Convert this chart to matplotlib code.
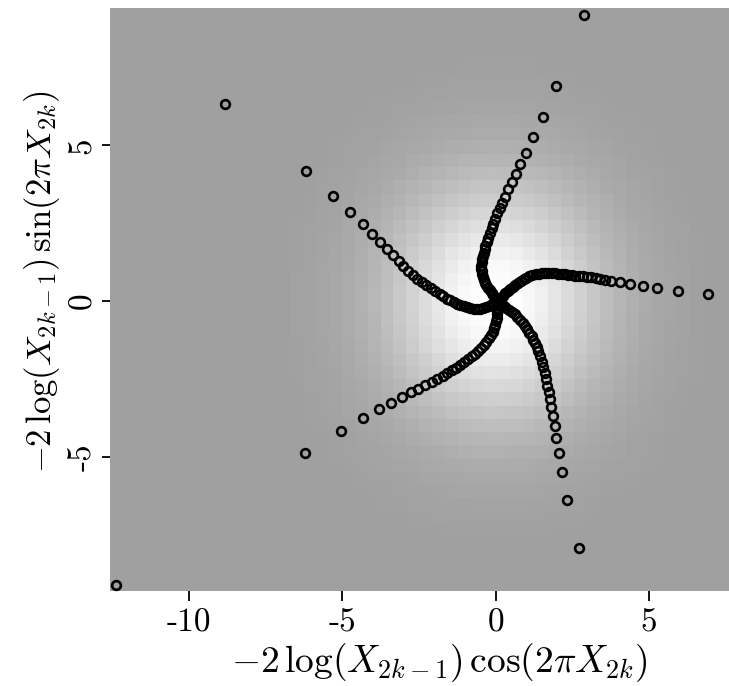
import numpy as np
import matplotlib
matplotlib.use("Agg")
import matplotlib.pyplot as plt

plt.rcParams['mathtext.fontset'] = 'cm'
plt.rcParams['axes.unicode_minus'] = False

# --- DATA: points, one list pair per spiral arm (outer -> centre) ---
arm_up_x = [2.87, 1.98, 1.53, 1.23, 1.00, 0.80, 0.65, 0.52, 0.39, 0.30, 0.21, 0.13, 0.06, -0.01,
            -0.07, -0.13, -0.18, -0.24, -0.29, -0.33, -0.36, -0.39, -0.42, -0.44, -0.45, -0.46,
            -0.46, -0.45, -0.43, -0.41, -0.38, -0.34, -0.30, -0.25, -0.19, -0.13, -0.07, -0.02, 0.02]
arm_up_y = [9.18, 6.90, 5.91, 5.27, 4.77, 4.41, 4.09, 3.82, 3.59, 3.35, 3.16, 2.99, 2.82, 2.65,
            2.49, 2.34, 2.19, 2.04, 1.90, 1.78, 1.66, 1.55, 1.44, 1.34, 1.24, 1.14,
            1.04, 0.95, 0.86, 0.77, 0.68, 0.59, 0.50, 0.42, 0.34, 0.26, 0.18, 0.11, 0.05]

arm_right_x = [6.91, 5.93, 5.27, 4.79, 4.38, 4.04, 3.76, 3.57, 3.41, 3.26, 3.11, 2.98, 2.85, 2.73,
               2.60, 2.48, 2.37, 2.26, 2.15, 2.04, 1.93, 1.82, 1.71, 1.60, 1.50, 1.40, 1.30,
               1.20, 1.10, 1.00, 0.91, 0.82, 0.73, 0.64, 0.56, 0.48, 0.40, 0.32, 0.24, 0.17, 0.10]
arm_right_y = [0.23, 0.32, 0.41, 0.48, 0.56, 0.60, 0.65, 0.68, 0.72, 0.74, 0.76, 0.78, 0.80, 0.81,
               0.82, 0.83, 0.84, 0.86, 0.87, 0.88, 0.89, 0.90, 0.90, 0.90, 0.89, 0.88, 0.86,
               0.83, 0.79, 0.75, 0.70, 0.65, 0.59, 0.53, 0.46, 0.39, 0.32, 0.25, 0.17, 0.10, 0.03]

arm_ul_x = [-8.82, -6.17, -5.29, -4.73, -4.33, -4.03, -3.78, -3.55, -3.34, -3.16, -3.00, -2.84,
            -2.69, -2.55, -2.41, -2.27, -2.11, -1.96, -1.81, -1.70, -1.59, -1.48, -1.37, -1.26,
            -1.15, -1.04, -0.93, -0.82, -0.71, -0.60, -0.50, -0.40, -0.30, -0.21, -0.13, -0.06]
arm_ul_y = [6.33, 4.18, 3.38, 2.86, 2.46, 2.15, 1.89, 1.66, 1.47, 1.28, 1.12, 0.97,
            0.83, 0.72, 0.61, 0.51, 0.41, 0.31, 0.22, 0.15, 0.08, 0.02, -0.04, -0.09,
            -0.13, -0.17, -0.20, -0.22, -0.24, -0.24, -0.24, -0.22, -0.19, -0.15, -0.10, -0.05]

arm_ll_x = [-12.36, -6.22, -5.05, -4.33, -3.81, -3.40, -3.06, -2.77, -2.52, -2.29, -2.08, -1.90,
            -1.72, -1.57, -1.43, -1.29, -1.16, -1.03, -0.89, -0.76, -0.66, -0.56, -0.47, -0.38,
            -0.30, -0.23, -0.16, -0.10, -0.05, -0.01, 0.02, 0.04, 0.05, 0.05, 0.05, 0.04, 0.03]
arm_ll_y = [-9.12, -4.87, -4.16, -3.76, -3.48, -3.27, -3.09, -2.93, -2.82, -2.70, -2.59, -2.49,
            -2.40, -2.31, -2.22, -2.14, -2.05, -1.97, -1.87, -1.77, -1.69, -1.60, -1.51, -1.41,
            -1.31, -1.20, -1.09, -0.98, -0.87, -0.76, -0.65, -0.54, -0.43, -0.33, -0.23, -0.14, -0.06]

arm_low_x = [2.71, 2.34, 2.16, 2.06, 1.98, 1.93, 1.87, 1.81, 1.77, 1.73, 1.68, 1.64, 1.60, 1.55,
             1.50, 1.45, 1.39, 1.34, 1.29, 1.23, 1.17, 1.10, 1.03, 0.96, 0.88, 0.80, 0.71,
             0.62, 0.53, 0.44, 0.35, 0.26, 0.17, 0.09]
arm_low_y = [-7.94, -6.38, -5.50, -4.88, -4.39, -4.00, -3.68, -3.40, -3.16, -2.93, -2.72, -2.51,
             -2.32, -2.13, -1.95, -1.77, -1.60, -1.48, -1.36, -1.24, -1.13, -1.02, -0.91, -0.81,
             -0.71, -0.61, -0.52, -0.43, -0.35, -0.28, -0.21, -0.15, -0.10, -0.05]

# background shading: grey level against distance from origin
shade_r = [0.0, 0.5, 1.0, 1.5, 2.0, 2.5, 3.0, 3.5, 4.0, 4.5, 5.0, 6.0, 7.0, 30.0]
shade_level = [255, 253, 249, 240, 228, 215, 203, 192, 182, 175, 169, 163, 160, 160]

xticks = [-10, -5, 0, 5]
yticks = [-5, 0, 5]

# --- FIGURE ---
fig = plt.figure(figsize=(7.29, 6.86), dpi=100, facecolor='white')
ax = fig.add_axes([109.6 / 729, 95 / 686, 619.4 / 729, 583 / 686])
x0, x1 = -12.57, 7.60
y0, y1 = -9.31, 9.41
ax.set_xlim(x0, x1); ax.set_ylim(y0, y1)

# pixelated density image
xe = np.linspace(x0, x1, 49)
ye = np.linspace(y0, y1, 45)
xc = 0.5 * (xe[:-1] + xe[1:]); yc = 0.5 * (ye[:-1] + ye[1:])
XX, YY = np.meshgrid(xc, yc)
Z = np.interp(np.hypot(XX, 0.9 * YY), shade_r, shade_level)
ax.pcolormesh(xe, ye, Z, cmap='gray', vmin=0, vmax=255, shading='flat', antialiased=False, zorder=1)

arms = [(arm_up_x, arm_up_y), (arm_right_x, arm_right_y), (arm_ul_x, arm_ul_y),
        (arm_ll_x, arm_ll_y), (arm_low_x, arm_low_y)]
for px, py in arms:
    ax.plot(px, py, 'o', ls='none', ms=6.3, mfc='none', mec='black', mew=1.9, zorder=3, clip_on=False)

for s in ax.spines.values():
    s.set_visible(False)

ax.set_xticks(xticks)
ax.set_xticklabels([str(v) for v in xticks], fontfamily='cmr10', fontsize=24)
ax.set_yticks(yticks)
ax.set_yticklabels([str(v) for v in yticks], fontfamily='cmr10', fontsize=24,
                   rotation=90, va='center')
ax.tick_params(axis='x', direction='out', length=7.5, width=1.3, color='black', pad=5)
ax.tick_params(axis='y', direction='out', length=6, width=1.3, color='black', pad=3)

ax.set_xlabel(r'$-2\,\log(X_{2k-1})\,\cos(2\pi X_{2k})$', fontsize=27)
ax.set_ylabel(r'$-2\,\log(X_{2k-1})\,\sin(2\pi X_{2k})$', fontsize=25)
ax.xaxis.set_label_coords(0.532, -0.086)
ax.yaxis.set_label_coords(-0.077, 0.53)

fig.savefig('out.png', dpi=100, facecolor='white')
